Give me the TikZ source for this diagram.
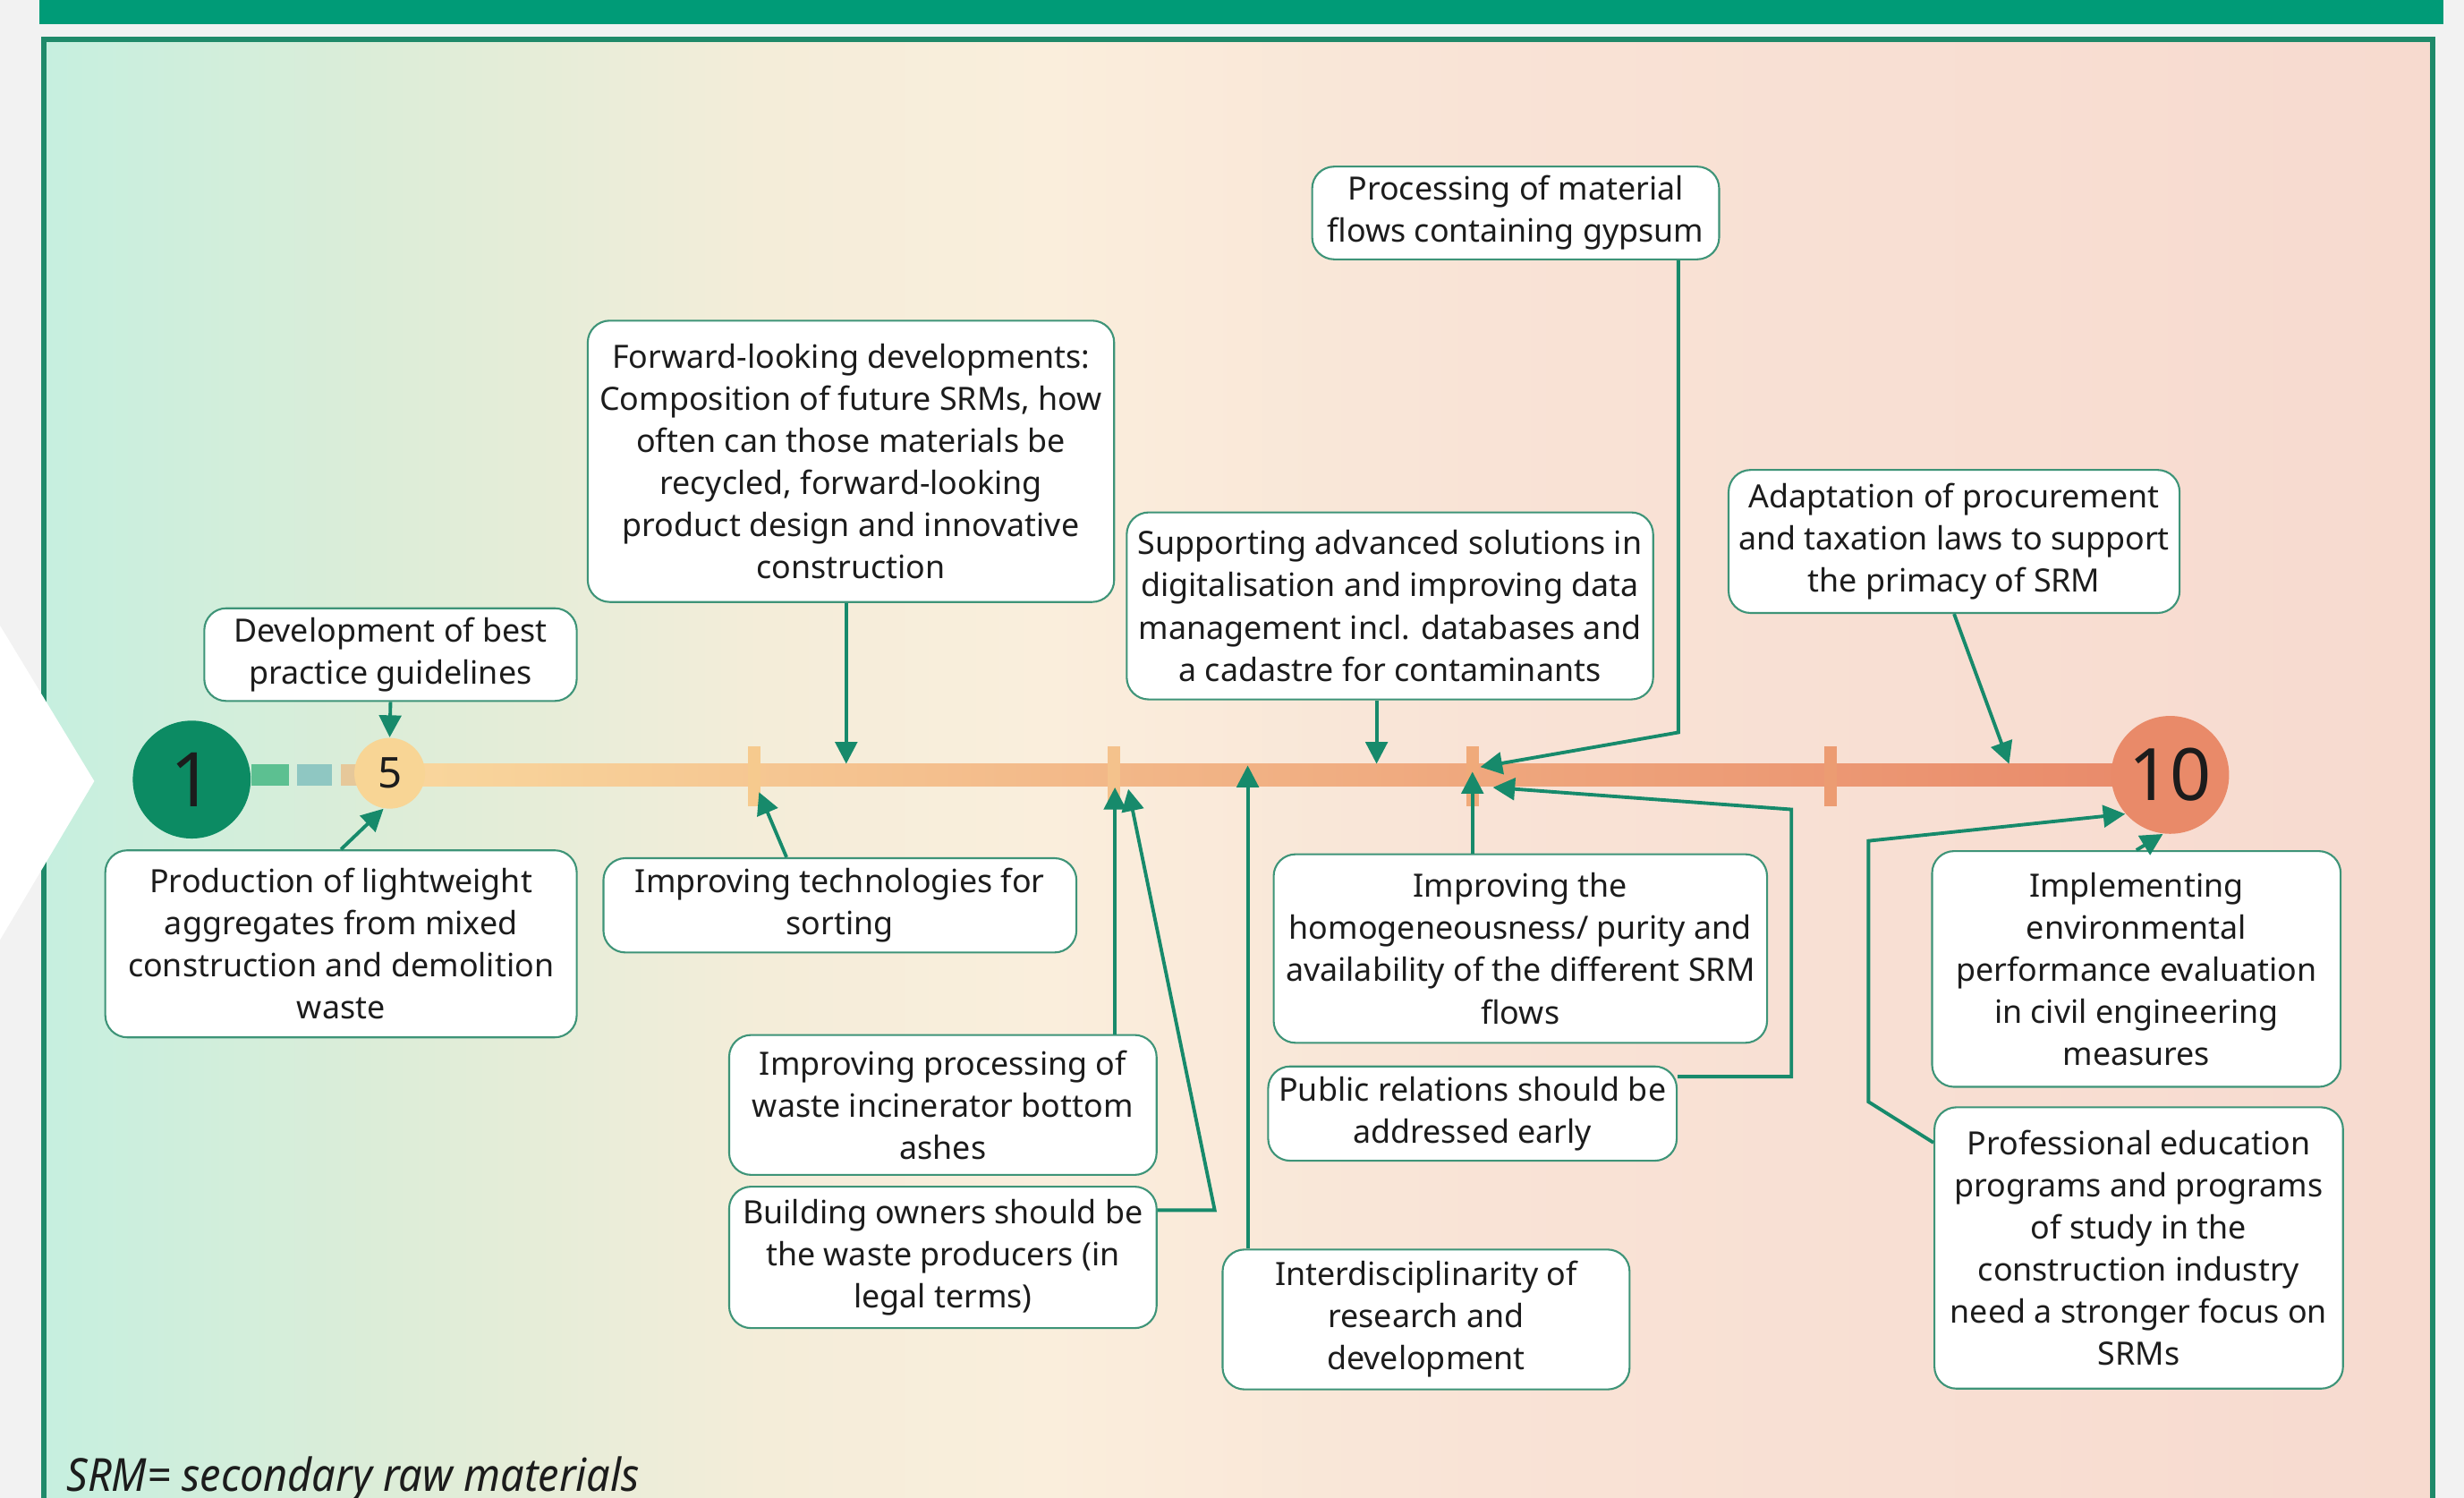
\documentclass[tikz,border=0pt]{standalone}
\usepackage{fontspec}
\setmainfont{Noto Sans}
\usetikzlibrary{arrows.meta,calc}
\definecolor{bgc}{HTML}{F2F2F2}
\definecolor{topbar}{HTML}{009B77}
\definecolor{panelc}{HTML}{1F8A6A}
\definecolor{pga}{HTML}{C6EFDF}
\definecolor{pgb}{HTML}{DCEDD8}
\definecolor{pgc}{HTML}{F4EDD9}
\definecolor{pgd}{HTML}{FAEEDC}
\definecolor{pge}{HTML}{F9E3D6}
\definecolor{pgf}{HTML}{F7DACF}
\definecolor{arrc}{HTML}{178A6B}
\definecolor{boxc}{HTML}{3E9478}
\definecolor{txt}{HTML}{1C1C1C}
\definecolor{cone}{HTML}{0C8B63}
\definecolor{cfive}{HTML}{F8D595}
\definecolor{cten}{HTML}{E98A69}
\definecolor{barl}{HTML}{F9D79D}
\definecolor{barm}{HTML}{F4BC88}
\definecolor{barr}{HTML}{E98B6B}
\definecolor{dgreen}{HTML}{5CC091}
\definecolor{dteal}{HTML}{8FC7C2}
\definecolor{dbeige}{HTML}{E6C89A}
\definecolor{tka}{HTML}{F6CA8E}
\definecolor{tkb}{HTML}{F4C28C}
\definecolor{tkc}{HTML}{F0AA7A}
\definecolor{tkd}{HTML}{EC9C72}
\pgfdeclarehorizontalshading{panelshade}{100bp}{color(0bp)=(pga); color(25bp)=(pga); color(32bp)=(pgb); color(40bp)=(pgc); color(46bp)=(pgd); color(55bp)=(pge); color(75bp)=(pgf); color(100bp)=(pgf)}
\newcommand\bxfont{\fontsize{10.2pt}{13.4pt}\selectfont}
\begin{document}
\begin{tikzpicture}[x=0.5pt,y=-0.5pt,
  box/.style={draw=boxc, fill=white, line width=0.6pt, rounded corners=7pt,
    align=center, inner sep=0pt, text=txt, font=\bxfont},
  arr/.style={draw=arrc, line width=1.1pt, -{Triangle[length=7pt,width=7pt]}},
  numc/.style={circle, inner sep=0pt, text=txt}]
\useasboundingbox (0,0) rectangle (1568,953);
% background
\fill[bgc] (0,0) rectangle (1568,953);
\fill[topbar] (25,0) rectangle (1555,15.5);
\shade[shading=panelshade] (28,25) rectangle (1548,1000);
\draw[panelc, line width=1.7pt] (28,25) rectangle (1548,1000);
% chevron
\fill[white] (0,398) -- (60,497) -- (0,598) -- cycle;
% timeline
\fill[dgreen] (160,486) rectangle (184,500);
\fill[dteal] (189,486) rectangle (211,500);
\fill[dbeige] (217,486) rectangle (232,500);
\fill[left color=barl, middle color=barm, right color=barr] (248,486) rectangle (1350,500);
\fill[tka] (476,475) rectangle (484,513);
\fill[tkb] (705,475) rectangle (713,513);
\fill[tkc] (933,475) rectangle (941,513);
\fill[tkd] (1161,475) rectangle (1169,513);
% circles
\node[numc, fill=cone, minimum size=37.5pt, font=\fontsize{24pt}{24pt}\selectfont] (c1) at (122,496) {1};
\node[numc, fill=cfive, minimum size=22.5pt, font=\fontsize{13.5pt}{13.5pt}\selectfont] (c5) at (248,492) {5};
\node[numc, fill=cten, minimum size=37.5pt, font=\fontsize{23pt}{23pt}\selectfont] (c10) at (1381,493) {10};
% boxes
\node[box, minimum width=118.5pt, minimum height=29.5pt] (A) at (248.5,416.5) {Development of best\\practice guidelines};
\node[box, minimum width=150pt, minimum height=59.5pt] (B) at (217,600.5) {Production of lightweight\\aggregates from mixed\\construction and demolition\\waste};
\node[box, minimum width=167.5pt, minimum height=89.5pt] (C) at (541.5,293.5) {Forward-looking developments:\\Composition of future SRMs, how\\often can those materials be\\recycled, forward-looking\\product design and innovative\\construction};
\node[box, minimum width=150.5pt, minimum height=30pt] (D) at (534.5,576) {Improving technologies for\\sorting};
\node[box, minimum width=136pt, minimum height=44.5pt] (E) at (600,703) {Improving processing of\\waste incinerator bottom\\ashes};
\node[box, minimum width=136pt, minimum height=45pt] (F) at (600,800) {Building owners should be\\the waste producers (in\\legal terms)};
\node[box, minimum width=129.5pt, minimum height=29.5pt] (G) at (964.5,135.5) {Processing of material\\flows containing gypsum};
\node[box, minimum width=167.5pt, minimum height=59.5pt] (H) at (884.5,385.5) {Supporting advanced solutions in\\digitalisation and improving data\\management incl. databases and\\a cadastre for contaminants};
\node[box, minimum width=129.5pt, minimum height=44.5pt] (I) at (907.5,839.5) {Interdisciplinarity of\\research and\\development};
\node[box, minimum width=157pt, minimum height=60pt] (J) at (967.5,603.5) {Improving the\\homogeneousness/ purity and\\availability of the different SRM\\flows};
\node[box, minimum width=130pt, minimum height=30pt] (K) at (937,708.5) {Public relations should be\\addressed early};
\node[box, minimum width=143.5pt, minimum height=45.5pt] (L) at (1243.5,344.5) {Adaptation of procurement\\and taxation laws to support\\the primacy of SRM};
\node[box, minimum width=130pt, minimum height=75pt] (M) at (1359.5,616.5) {Implementing\\environmental\\performance evaluation\\in civil engineering\\measures};
\node[box, minimum width=130pt, minimum height=89.5pt] (N) at (1361,794) {Professional education\\programs and programs\\of study in the\\construction industry\\need a stronger focus on\\SRMs};
% footnote
\node[anchor=base west, inner sep=0pt, text=txt, font=\fontsize{14.5pt}{14.5pt}\selectfont\itshape] (fn) at (42,949) {\scalebox{0.92}[1]{SRM= secondary raw materials}};
% target coordinates on the timeline
\coordinate (tC) at (538.5,486);
\coordinate (tD) at (483,504);
\coordinate (tE) at (709.5,501);
\coordinate (kF) at (773,770);
\coordinate (tF) at (718,502);
\coordinate (tI) at (794,487);
\coordinate (tH) at (876,486);
\coordinate (kG) at (1068,466);
\coordinate (tG) at (942,488);
\coordinate (tJ) at (937,491);
\coordinate (kK1) at (1140,685);
\coordinate (kK2) at (1140,515);
\coordinate (tK) at (950,501);
\coordinate (tL) at (1278.5,486);
\coordinate (nY) at (0,727);
\coordinate (kN1) at (1189,701);
\coordinate (kN2) at (1189,535);
% connectors
\draw[arr] (A.south) -- (c5.north);
\draw[arr] (B.north) -- (c5.-100);
\draw[arr] (C.south -| tC) -- (tC);
\draw[arr] ($(D.north)+(-34,0)$) -- (tD);
\draw[arr] (E.north -| tE) -- (tE);
\draw[arr] (F.east |- kF) -- (kF) -- (tF);
\draw[arr] (I.north -| tI) -- (tI);
\draw[arr] (H.south -| tH) -- (tH);
\draw[arr] (G.south -| kG) -- (kG) -- (tG);
\draw[arr] (J.north -| tJ) -- (tJ);
\draw[arr] (K.east |- kK1) -- (kK1) -- (kK2) -- (tK);
\draw[arr] (L.south) -- (tL);
\draw[arr] (N.west |- nY) -- (kN1) -- (kN2) -- (c10.221);
\draw[arr] (M.north) -- (c10.263);
\end{tikzpicture}
\end{document}
